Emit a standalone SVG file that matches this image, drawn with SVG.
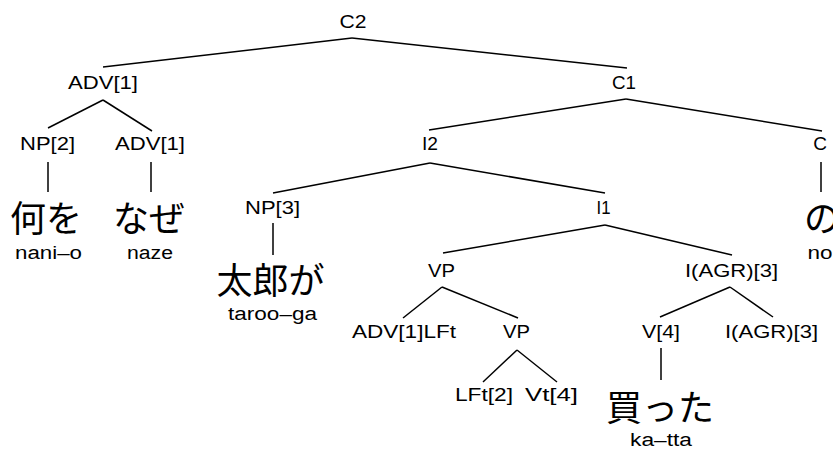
<svg xmlns="http://www.w3.org/2000/svg" width="833" height="453" viewBox="0 0 833 453">
<style>
.lbl{font-family:"Liberation Sans",Arial,sans-serif;font-size:19px;fill:#000;text-anchor:middle}
.jp{font-family:"Noto Sans CJK JP",sans-serif;font-size:36px;fill:#000;text-anchor:middle}
.rom{font-family:"Liberation Sans",Arial,sans-serif;font-size:18px;fill:#000;text-anchor:middle}
.edges line{stroke:#000;stroke-width:1.5;fill:none}
</style>
<rect width="833" height="453" fill="#fff"/>
<g class="edges" id="connectors">
<line x1="352" y1="38" x2="103" y2="67" stroke-width="2"/>
<line x1="352" y1="38" x2="627" y2="68" stroke-width="2"/>
<line x1="103" y1="100" x2="48" y2="128"/>
<line x1="103" y1="100" x2="152" y2="131"/>
<line x1="48" y1="162" x2="48" y2="192"/>
<line x1="151" y1="162" x2="151" y2="192"/>
<line x1="626" y1="99" x2="429" y2="130"/>
<line x1="626" y1="99" x2="822" y2="131"/>
<line x1="821" y1="162" x2="821" y2="192"/>
<line x1="430" y1="163" x2="273" y2="193"/>
<line x1="430" y1="163" x2="605" y2="193"/>
<line x1="273" y1="223" x2="273" y2="255"/>
<line x1="605" y1="225" x2="443" y2="253"/>
<line x1="605" y1="225" x2="732" y2="255"/>
<line x1="442" y1="287" x2="403" y2="318"/>
<line x1="442" y1="287" x2="518" y2="318"/>
<line x1="517" y1="350" x2="483" y2="382"/>
<line x1="517" y1="350" x2="557" y2="382"/>
<line x1="730" y1="287" x2="660" y2="317"/>
<line x1="730" y1="287" x2="773" y2="317"/>
<line x1="661" y1="348" x2="661" y2="380"/>
</g>
<g id="n-C2"><text class="lbl" x="353" y="28" textLength="27" lengthAdjust="spacingAndGlyphs">C2</text></g>
<g id="n-ADV1"><text class="lbl" x="103" y="89" textLength="70" lengthAdjust="spacingAndGlyphs">ADV[1]</text></g>
<g id="n-C1"><text class="lbl" x="624" y="89" textLength="24" lengthAdjust="spacingAndGlyphs">C1</text></g>
<g id="n-NP2"><text class="lbl" x="47.5" y="150" textLength="55" lengthAdjust="spacingAndGlyphs">NP[2]</text></g>
<g id="n-ADV1b"><text class="lbl" x="150" y="150" textLength="70" lengthAdjust="spacingAndGlyphs">ADV[1]</text></g>
<g id="n-I2"><text class="lbl" x="430" y="150" textLength="16" lengthAdjust="spacingAndGlyphs">I2</text></g>
<g id="n-C"><text class="lbl" x="820" y="150">C</text></g>
<g id="w-nanio"><text class="jp" x="46" y="232">何を</text><text class="rom" x="48.5" y="259" textLength="67" lengthAdjust="spacingAndGlyphs">nani–o</text></g>
<g id="w-naze"><text class="jp" x="149" y="232">なぜ</text><text class="rom" x="150" y="259" textLength="46" lengthAdjust="spacingAndGlyphs">naze</text></g>
<g id="w-no"><text class="jp" x="822" y="232">の</text><text class="rom" x="820" y="259" textLength="25" lengthAdjust="spacingAndGlyphs">no</text></g>
<g id="n-NP3"><text class="lbl" x="272.5" y="214" textLength="55" lengthAdjust="spacingAndGlyphs">NP[3]</text></g>
<g id="n-I1"><text class="lbl" x="603.5" y="214" textLength="14" lengthAdjust="spacingAndGlyphs">I1</text></g>
<g id="w-taroo"><text class="jp" x="270.5" y="294">太郎が</text><text class="rom" x="272.5" y="320" textLength="89" lengthAdjust="spacingAndGlyphs">taroo–ga</text></g>
<g id="n-VP"><text class="lbl" x="441.5" y="277" textLength="27" lengthAdjust="spacingAndGlyphs">VP</text></g>
<g id="n-IAGR"><text class="lbl" x="731.5" y="277" textLength="93" lengthAdjust="spacingAndGlyphs">I(AGR)[3]</text></g>
<g id="n-ADVLFt"><text class="lbl" x="404" y="338" textLength="104" lengthAdjust="spacingAndGlyphs">ADV[1]LFt</text></g>
<g id="n-VP2"><text class="lbl" x="516.5" y="338" textLength="27" lengthAdjust="spacingAndGlyphs">VP</text></g>
<g id="n-V4"><text class="lbl" x="661" y="338" textLength="38" lengthAdjust="spacingAndGlyphs">V[4]</text></g>
<g id="n-IAGR2"><text class="lbl" x="771.5" y="338" textLength="93" lengthAdjust="spacingAndGlyphs">I(AGR)[3]</text></g>
<g id="n-LFt2"><text class="lbl" x="484" y="401" textLength="58" lengthAdjust="spacingAndGlyphs">LFt[2]</text></g>
<g id="n-Vt4"><text class="lbl" x="551.5" y="401" textLength="53" lengthAdjust="spacingAndGlyphs">Vt[4]</text></g>
<g id="w-katta"><text class="jp" x="660" y="421">買った</text><text class="rom" x="661" y="446" textLength="62" lengthAdjust="spacingAndGlyphs">ka–tta</text></g>
</svg>
